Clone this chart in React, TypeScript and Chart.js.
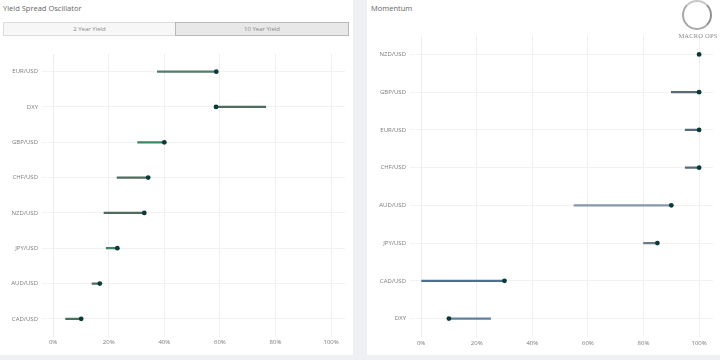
import React, { useEffect, useRef } from "react";
import { Chart, registerables } from "chart.js";
Chart.register(...registerables);

const yieldCategories = ["EUR/USD", "DXY", "GBP/USD", "CHF/USD", "NZD/USD", "JPY/USD", "AUD/USD", "CAD/USD"];
const yieldStart = [37.5, 76.5, 30.4, 23, 18.3, 19.1, 14, 4.5];
const yieldCurrent = [58.7, 58.6, 40, 34.2, 32.8, 23.1, 16.8, 10.1];
const yieldLineColors = ["#557a68", "#4f6b5e", "#3c8560", "#4f6b5e", "#4f6b5e", "#3c8560", "#4f6b5e", "#44745c"];

const momentumCategories = ["NZD/USD", "GBP/USD", "EUR/USD", "CHF/USD", "AUD/USD", "JPY/USD", "CAD/USD", "DXY"];
const momentumStart = [100, 90, 95, 95, 55, 80, 0, 25];
const momentumCurrent = [100, 100, 100, 100, 90, 85, 30, 10];
const momentumLineColors = ["#5a6878", "#5a6878", "#5a6878", "#5a6878", "#8797ab", "#6d7a88", "#4f6f90", "#5f7fa0"];

const xTicks = [0, 20, 40, 60, 80, 100];
const tabLabels = ["2 Year Yield", "10 Year Yield"];

const FONT = "'Open Sans', 'DejaVu Sans', sans-serif";

function makeConfig(
  categories: string[],
  start: number[],
  current: number[],
  colors: string[],
  yWidth: number,
  xHeight: number,
  padTop: number,
  padRight: number
): any {
  return {
    type: "bar",
    data: {
      labels: categories,
      datasets: [
        {
          type: "bar",
          indexAxis: "y",
          data: categories.map((_, i) => [start[i], current[i]]),
          backgroundColor: colors,
          borderWidth: 0,
          barThickness: 1.6,
          order: 2,
        },
        {
          type: "line",
          indexAxis: "y",
          data: current,
          showLine: false,
          pointRadius: 2.4,
          pointBorderWidth: 0,
          pointBackgroundColor: "#0b3a3b",
          order: 1,
        },
      ],
    },
    options: {
      indexAxis: "y",
      responsive: false,
      animation: false,
      events: [],
      layout: { padding: { top: padTop, right: padRight, left: 0, bottom: 0 } },
      plugins: { legend: { display: false }, tooltip: { enabled: false } },
      scales: {
        x: {
          type: "linear",
          min: -4,
          max: 105,
          afterBuildTicks: (axis: any) => {
            axis.ticks = xTicks.map((v) => ({ value: v }));
          },
          afterFit: (axis: any) => {
            axis.height = xHeight;
          },
          grid: { color: "#efefef", drawTicks: false, lineWidth: 1 },
          border: { display: false },
          ticks: {
            padding: 2,
            color: "#7a7a7a",
            font: { family: FONT, size: 6 },
            callback: (v: any) => v + "%",
          },
        },
        y: {
          type: "category",
          offset: true,
          afterFit: (axis: any) => {
            axis.width = yWidth;
          },
          grid: { color: "#f2f2f2", drawTicks: false, offset: false, lineWidth: 1 },
          border: { display: false },
          ticks: {
            padding: 4,
            color: "#7a7a7a",
            font: { family: FONT, size: 6 },
          },
        },
      },
    },
  };
}

function ChartCanvas(props: { config: any; left: number; top: number; width: number; height: number }) {
  const ref = useRef<HTMLCanvasElement | null>(null);
  useEffect(() => {
    if (!ref.current) return;
    const chart = new Chart(ref.current, props.config);
    return () => chart.destroy();
  }, []);
  return (
    <canvas
      ref={ref}
      width={props.width}
      height={props.height}
      style={{ position: "absolute", left: props.left, top: props.top, width: props.width, height: props.height }}
    />
  );
}

export default function App() {
  const leftConfig = makeConfig(yieldCategories, yieldStart, yieldCurrent, yieldLineColors, 42, 18.5, 14, 8);
  const rightConfig = makeConfig(momentumCategories, momentumStart, momentumCurrent, momentumLineColors, 43, 17.6, 2, 7);
  const titleStyle: React.CSSProperties = {
    position: "absolute",
    top: 3,
    fontSize: 7.5,
    color: "#666",
    fontFamily: FONT,
    lineHeight: "11px",
    whiteSpace: "nowrap",
  };
  const tabBase: React.CSSProperties = {
    position: "absolute",
    top: 22,
    height: 14,
    boxSizing: "border-box",
    fontSize: 6,
    color: "#888",
    fontFamily: FONT,
    lineHeight: "12px",
    textAlign: "center",
  };
  return (
    <div
      style={{
        position: "absolute",
        left: 0,
        top: 0,
        width: 720,
        height: 360,
        background: "#eef0f4",
        overflow: "hidden",
      }}
    >
      <div style={{ position: "absolute", left: 0, top: 0, width: 353, height: 355, background: "#fff" }} />
      <div style={{ position: "absolute", left: 367, top: 0, width: 353, height: 355, background: "#fff" }} />
      <div style={{ ...titleStyle, left: 3 }}>Yield Spread Oscillator</div>
      <div style={{ ...titleStyle, left: 371 }}>Momentum</div>
      <div style={{ ...tabBase, left: 3, width: 173, background: "#f7f7f7", border: "1px solid #dcdcdc" }}>
        {tabLabels[0]}
      </div>
      <div style={{ ...tabBase, left: 175, width: 174, background: "#e8e8e8", border: "1px solid #b8b8b8" }}>
        {tabLabels[1]}
      </div>
      <ChartCanvas config={leftConfig} left={0} top={40} width={353} height={315} />
      <ChartCanvas config={rightConfig} left={367} top={28} width={353} height={327} />
      <div
        style={{
          position: "absolute",
          left: 682,
          top: 0,
          width: 26,
          height: 26,
          borderRadius: "50%",
          border: "2px solid #a8a8a8",
          borderTopColor: "#c8c8c8",
          borderRightColor: "#909090",
        }}
      />
      <div
        style={{
          position: "absolute",
          left: 676,
          top: 32,
          width: 44,
          textAlign: "center",
          fontFamily: "'Liberation Serif', 'DejaVu Serif', serif",
          fontSize: 6.5,
          color: "#8a8a8a",
          whiteSpace: "nowrap",
          letterSpacing: 0.2,
        }}
      >
        MACRO OPS
      </div>
    </div>
  );
}
